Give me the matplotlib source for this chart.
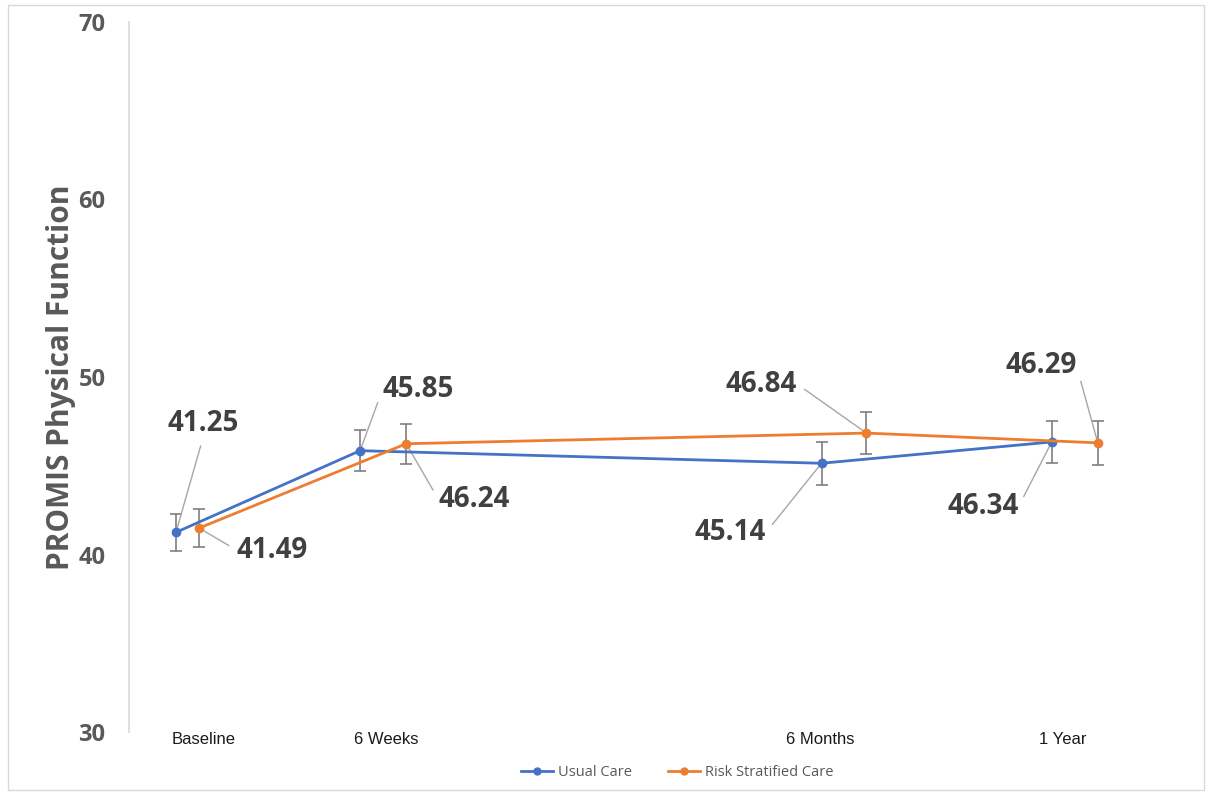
import numpy as np
import matplotlib
matplotlib.use("Agg")
import matplotlib.pyplot as plt
from matplotlib.patches import Rectangle
from matplotlib.lines import Line2D

# time points (tick positions are not evenly spaced)
time_labels = ['Baseline', '6 Weeks', '6 Months', '1 Year']
time_pos = [0.0, 1.0, 3.385, 4.714]

# each series is shifted a little sideways so the error bars don't overlap
usual_x = [-0.154, 0.857, 3.39, 4.654]
usual_y = [41.25, 45.85, 45.14, 46.34]
usual_err = [1.05, 1.15, 1.2, 1.2]

risk_x = [-0.027, 1.11, 3.637, 4.907]
risk_y = [41.49, 46.24, 46.84, 46.29]
risk_err = [1.07, 1.13, 1.2, 1.25]

# label offsets in pixels (dx, dy) and which side the leader line attaches to
usual_off = [(27, 109), (58, 61), (-91, -69), (-69, -65)]
usual_rel = [(0.5, 0), (0, 0.5), (1, 0.5), (1, 0.5)]
risk_off = [(73, -22), (68, -56), (-105, 49), (-57, 77)]
risk_rel = [(0, 0.5), (0, 0.5), (1, 0.5), (1, 0.5)]

blue = '#4472C4'
orange = '#ED7D31'
txt = '#404040'

plt.rcParams['font.family'] = ['Open Sans', 'DejaVu Sans']

fig = plt.figure(figsize=(12.06, 7.95), dpi=100)
ax = fig.add_axes([129/1206, 1-732/795, (1204-129)/1206, (732-22)/795])

ax.errorbar(usual_x, usual_y, yerr=usual_err, color=blue, lw=2, marker='o', ms=6,
            ecolor='#7f7f7f', elinewidth=1.2, capsize=4, capthick=1.2, zorder=3)
ax.errorbar(risk_x, risk_y, yerr=risk_err, color=orange, lw=2, marker='o', ms=6,
            ecolor='#7f7f7f', elinewidth=1.2, capsize=4, capthick=1.2, zorder=3)

def label_points(xs, ys, offs, rels):
    for x, y, (dx, dy), rel in zip(xs, ys, offs, rels):
        ax.annotate(f'{y:.2f}', xy=(x, y), xytext=(dx, dy), textcoords='offset pixels',
                    ha='center', va='center', fontsize=20, fontweight='bold', color=txt,
                    arrowprops=dict(arrowstyle='-', color='#a6a6a6', lw=1, relpos=rel,
                                    shrinkA=4, shrinkB=0))

label_points(usual_x, usual_y, usual_off, usual_rel)
label_points(risk_x, risk_y, risk_off, risk_rel)

ax.set_xlim(-0.412, 5.49)
ax.set_ylim(30, 70)
ax.set_yticks([30, 40, 50, 60, 70])
ax.set_xticks(time_pos)
ax.set_xticklabels(time_labels, family='Liberation Sans', fontsize=12, color='#1a1a1a')
ax.tick_params(axis='x', length=0, pad=0)
ax.tick_params(axis='y', length=0, pad=17, labelsize=17, labelcolor='#595959')
for t in ax.get_yticklabels():
    t.set_fontweight('bold')

for s in ['top', 'right', 'bottom']:
    ax.spines[s].set_visible(False)
ax.spines['left'].set_color('#d9d9d9')
ax.spines['left'].set_linewidth(1.2)

ax.set_ylabel('PROMIS Physical Function', fontsize=21.5, fontweight='bold', color='#595959', labelpad=2)

handles = [Line2D([], [], color=blue, lw=2, marker='o', ms=5),
           Line2D([], [], color=orange, lw=2, marker='o', ms=5)]
ax.legend(handles, ['Usual Care', 'Risk Stratified Care'], loc='upper center',
          bbox_to_anchor=(0.51, -0.028), ncol=2, frameon=False, fontsize=10.5,
          labelcolor='#595959', handlelength=2.2, handletextpad=0.3, columnspacing=2.5)

# thin grey frame around the whole chart
fig.patches.append(Rectangle((8/1206, 1-790/795), 1196/1206, 785/795, transform=fig.transFigure,
                             fill=False, edgecolor='#d9d9d9', lw=1))

fig.savefig('out.png', dpi=100)
